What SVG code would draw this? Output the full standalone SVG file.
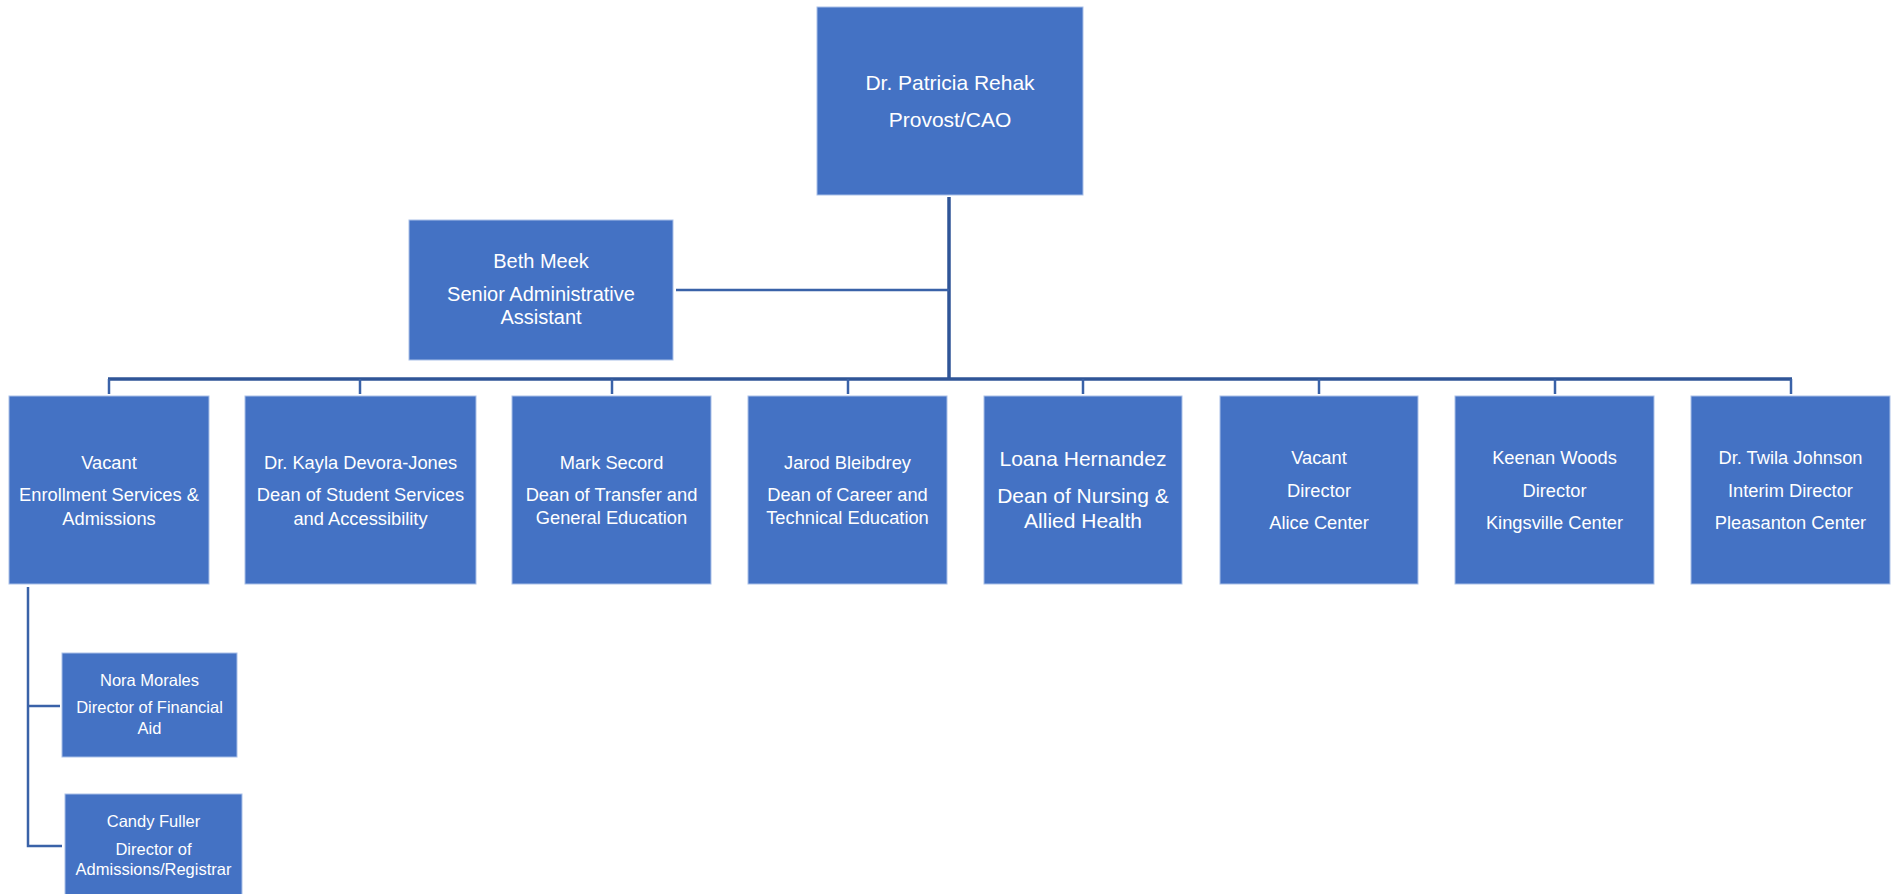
<svg xmlns="http://www.w3.org/2000/svg" width="1899" height="894" viewBox="0 0 1899 894">
<style>
.box{fill:#4472C4;stroke:#A9C0E8;stroke-width:1}
text{font-family:"Liberation Sans",Arial,sans-serif;fill:#FFFFFF;text-anchor:middle}
.t19{font-size:18.3px}
.t20{font-size:20px}
.t21{font-size:21px}
.t17{font-size:16.5px}
.main{stroke:#2F5597;stroke-width:3.5;fill:none}
.thin{stroke:#3A62A8;stroke-width:2.5;fill:none}
</style>
<rect width="1899" height="894" fill="#FFFFFF"/>
<g id="connectors">
<line class="main" x1="949" y1="197" x2="949" y2="380"/>
<line class="thin" x1="676" y1="290" x2="949" y2="290"/>
<line class="main" x1="108" y1="379" x2="1792" y2="379"/>
<line class="thin" x1="109" y1="379" x2="109" y2="394"/>
<line class="thin" x1="360" y1="379" x2="360" y2="394"/>
<line class="thin" x1="612" y1="379" x2="612" y2="394"/>
<line class="thin" x1="848" y1="379" x2="848" y2="394"/>
<line class="thin" x1="1083" y1="379" x2="1083" y2="394"/>
<line class="thin" x1="1319" y1="379" x2="1319" y2="394"/>
<line class="thin" x1="1555" y1="379" x2="1555" y2="394"/>
<line class="thin" x1="1791" y1="379" x2="1791" y2="394"/>
<polyline class="thin" points="28,587 28,846 62,846"/>
<line class="thin" x1="28" y1="706" x2="60" y2="706"/>
</g>
<g id="provost">
<rect class="box" x="817" y="7" width="266" height="188"/>
<text class="t21" x="950" y="90">Dr. Patricia Rehak</text>
<text class="t21" x="950" y="127">Provost/CAO</text>
</g>
<g id="beth-meek">
<rect class="box" x="409" y="220" width="264" height="140"/>
<text class="t20" x="541" y="268">Beth Meek</text>
<text class="t20" x="541" y="301">Senior Administrative</text>
<text class="t20" x="541" y="324">Assistant</text>
</g>
<g id="enrollment">
<rect class="box" x="9" y="396" width="200" height="188"/>
<text class="t19" x="109" y="469">Vacant</text>
<text class="t19" x="109" y="501">Enrollment Services &amp;</text>
<text class="t19" x="109" y="525">Admissions</text>
</g>
<g id="student-services">
<rect class="box" x="245" y="396" width="231" height="188"/>
<text class="t19" x="360.5" y="469">Dr. Kayla Devora-Jones</text>
<text class="t19" x="360.5" y="501">Dean of Student Services</text>
<text class="t19" x="360.5" y="525">and Accessibility</text>
</g>
<g id="transfer">
<rect class="box" x="512" y="396" width="199" height="188"/>
<text class="t19" x="611.5" y="469">Mark Secord</text>
<text class="t19" x="611.5" y="501">Dean of Transfer and</text>
<text class="t19" x="611.5" y="524">General Education</text>
</g>
<g id="career">
<rect class="box" x="748" y="396" width="199" height="188"/>
<text class="t19" x="847.5" y="469">Jarod Bleibdrey</text>
<text class="t19" x="847.5" y="501">Dean of Career and</text>
<text class="t19" x="847.5" y="524">Technical Education</text>
</g>
<g id="nursing">
<rect class="box" x="984" y="396" width="198" height="188"/>
<text class="t21" x="1083" y="466">Loana Hernandez</text>
<text class="t21" x="1083" y="503">Dean of Nursing &amp;</text>
<text class="t21" x="1083" y="528">Allied Health</text>
</g>
<g id="alice">
<rect class="box" x="1220" y="396" width="198" height="188"/>
<text class="t19" x="1319" y="464">Vacant</text>
<text class="t19" x="1319" y="497">Director</text>
<text class="t19" x="1319" y="529">Alice Center</text>
</g>
<g id="kingsville">
<rect class="box" x="1455" y="396" width="199" height="188"/>
<text class="t19" x="1554.5" y="464">Keenan Woods</text>
<text class="t19" x="1554.5" y="497">Director</text>
<text class="t19" x="1554.5" y="529">Kingsville Center</text>
</g>
<g id="pleasanton">
<rect class="box" x="1691" y="396" width="199" height="188"/>
<text class="t19" x="1790.5" y="464">Dr. Twila Johnson</text>
<text class="t19" x="1790.5" y="497">Interim Director</text>
<text class="t19" x="1790.5" y="529">Pleasanton Center</text>
</g>
<g id="financial-aid">
<rect class="box" x="62" y="653" width="175" height="104"/>
<text class="t17" x="149.5" y="686">Nora Morales</text>
<text class="t17" x="149.5" y="713">Director of Financial</text>
<text class="t17" x="149.5" y="734">Aid</text>
</g>
<g id="registrar">
<rect class="box" x="65" y="794" width="177" height="101"/>
<text class="t17" x="153.5" y="827">Candy Fuller</text>
<text class="t17" x="153.5" y="855">Director of</text>
<text class="t17" x="153.5" y="875">Admissions/Registrar</text>
</g>
</svg>
